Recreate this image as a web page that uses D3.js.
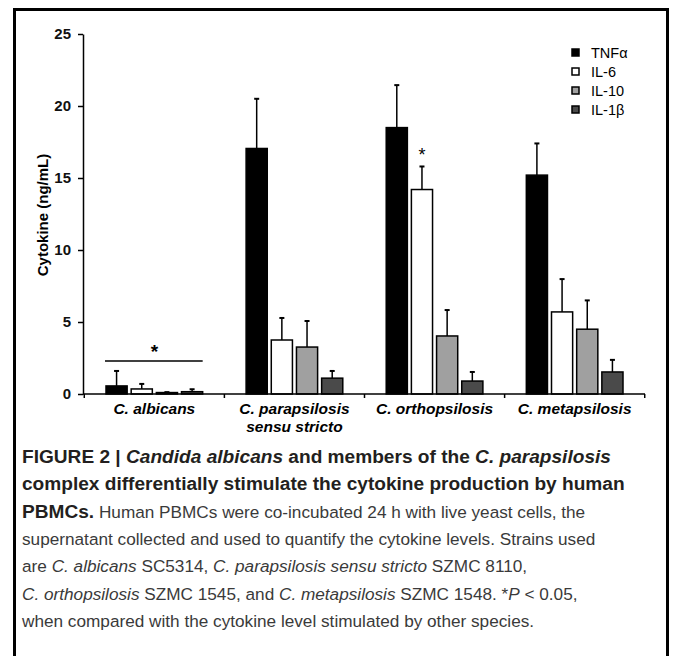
<!DOCTYPE html>
<html>
<head>
<meta charset="utf-8">
<script src="https://cdn.jsdelivr.net/npm/d3@7"></script>
<style>
  html, body { margin: 0; padding: 0; background: #fff; }
  svg { display: block; font-family: "Liberation Sans", Arial, sans-serif; }
</style>
</head>
<body>
<div id="app"></div>
<script>
// Data (ng/mL, mean and upper error)
const species = ["C. albicans", "C. parapsilosis", "C. orthopsilosis", "C. metapsilosis"];
const cytokines = ["TNFα", "IL-6", "IL-10", "IL-1β"];
const tnf = [0.56, 17.05, 18.5, 15.2];
const tnfErr = [1.04, 3.45, 2.95, 2.2];
const il6 = [0.35, 3.75, 14.2, 5.7];
const il6Err = [0.35, 1.53, 1.6, 2.28];
const il10 = [0.1, 3.26, 4.03, 4.5];
const il10Err = [0.03, 1.81, 1.8, 2.0];
const il1b = [0.16, 1.1, 0.9, 1.53];
const il1bErr = [0.17, 0.5, 0.63, 0.84];
const yTicks = [0, 5, 10, 15, 20, 25];

const colors = ["#000000", "#ffffff", "#a0a0a0", "#4a4a4a"];
const means = [tnf, il6, il10, il1b];
const errs = [tnfErr, il6Err, il10Err, il1bErr];

const width = 673, height = 656;
const svg = d3.select("#app").append("svg")
  .attr("width", width)
  .attr("height", height);

// frame around figure (open at the bottom)
svg.append("path")
  .attr("d", "M14.5,660 V9.5 H667.5 V660")
  .attr("fill", "none")
  .attr("stroke", "#000")
  .attr("stroke-width", 3);

const x0 = d3.scaleBand()
  .domain(species)
  .range([84, 645])
  .paddingInner(0.31)
  .paddingOuter(0.157);

const x1 = d3.scaleBand()
  .domain(cytokines)
  .range([0, x0.bandwidth()])
  .paddingInner(0.16);

const y = d3.scaleLinear()
  .domain([0, 25])
  .range([394, 34]);

// y axis
const yAxis = svg.append("g")
  .attr("transform", "translate(83,0)")
  .call(d3.axisLeft(y).tickValues(yTicks).tickSize(5).tickSizeOuter(0));
yAxis.select(".domain").attr("stroke-width", 1.5);
yAxis.selectAll(".tick line").attr("stroke-width", 1.5);
yAxis.selectAll(".tick text")
  .attr("font-size", 15)
  .attr("font-weight", "bold")
  .attr("font-family", "Liberation Sans, Arial, sans-serif")
  .attr("fill", "#111")
  .attr("x", -12);

svg.append("text")
  .attr("transform", "translate(48,215) rotate(-90)")
  .attr("text-anchor", "middle")
  .attr("font-size", 15)
  .attr("font-weight", "bold")
  .text("Cytokine (ng/mL)");

// bars
const groups = svg.append("g").selectAll("g")
  .data(species)
  .join("g")
  .attr("transform", d => `translate(${x0(d)},0)`);

groups.each(function(sp, i) {
  const g = d3.select(this);
  cytokines.forEach((c, k) => {
    const v = means[k][i], e = errs[k][i];
    const cx = x1(c) + x1.bandwidth() / 2;
    // error bar (upper only)
    g.append("line")
      .attr("x1", cx).attr("x2", cx)
      .attr("y1", y(v)).attr("y2", y(v + e))
      .attr("stroke", "#000").attr("stroke-width", 1.5);
    g.append("line")
      .attr("x1", cx - 2.5).attr("x2", cx + 2.5)
      .attr("y1", y(v + e)).attr("y2", y(v + e))
      .attr("stroke", "#000").attr("stroke-width", 2);
    g.append("rect")
      .attr("x", x1(c))
      .attr("y", y(v))
      .attr("width", x1.bandwidth())
      .attr("height", y(0) - y(v))
      .attr("fill", colors[k])
      .attr("stroke", "#000")
      .attr("stroke-width", 1.5);
  });
});

// x axis line and group ticks
const gap = (x0.step() - x0.bandwidth()) / 2;
svg.append("line")
  .attr("x1", 83).attr("x2", 645)
  .attr("y1", y(0)).attr("y2", y(0))
  .attr("stroke", "#000").attr("stroke-width", 1.5);
const bounds = species.map(s => x0(s) - gap).concat([x0(species[3]) + x0.bandwidth() + gap]);
svg.selectAll(".xtick")
  .data(bounds)
  .join("line")
  .attr("x1", d => d).attr("x2", d => d)
  .attr("y1", y(0)).attr("y2", y(0) + 4)
  .attr("stroke", "#000").attr("stroke-width", 1.5);

// category labels
const catLabels = svg.append("g")
  .attr("font-size", 15.5)
  .attr("font-weight", "bold")
  .attr("font-style", "italic")
  .attr("text-anchor", "middle");
species.forEach(s => {
  const t = catLabels.append("text")
    .attr("x", x0(s) + x0.bandwidth() / 2)
    .attr("y", 414);
  t.append("tspan").text(s);
  if (s === "C. parapsilosis") {
    t.append("tspan").attr("x", x0(s) + x0.bandwidth() / 2).attr("dy", 18).text("sensu stricto");
  }
});

// significance marks
const alb = species[0];
svg.append("line")
  .attr("x1", x0(alb) - 1).attr("x2", x0(alb) + x0.bandwidth())
  .attr("y1", 361).attr("y2", 361)
  .attr("stroke", "#000").attr("stroke-width", 1.5);
svg.append("text")
  .attr("x", x0(alb) + x0.bandwidth() / 2)
  .attr("y", 358)
  .attr("text-anchor", "middle")
  .attr("font-size", 19)
  .attr("font-weight", "bold")
  .text("*");
svg.append("text")
  .attr("x", x0(species[2]) + x1("IL-6") + x1.bandwidth() / 2)
  .attr("y", y(il6[2] + il6Err[2]) - 5)
  .attr("text-anchor", "middle")
  .attr("font-size", 18)
  .text("*");

// legend
const legend = svg.append("g").attr("transform", "translate(572,53)");
cytokines.forEach((c, k) => {
  const row = legend.append("g").attr("transform", `translate(0,${k * 19})`);
  row.append("rect")
    .attr("x", 0).attr("y", -4)
    .attr("width", 7).attr("height", 7)
    .attr("fill", colors[k])
    .attr("stroke", "#000").attr("stroke-width", 1.5);
  row.append("text")
    .attr("x", 19).attr("y", 5)
    .attr("font-size", 14.5)
    .text(c);
});

// caption
const capLines = [
  [["b", "FIGURE 2 | "], ["bi", "Candida albicans"], ["b", " and members of the "], ["bi", "C. parapsilosis"]],
  [["b", "complex differentially stimulate the cytokine production by human"]],
  [["b", "PBMCs."], ["r", " Human PBMCs were co-incubated 24 h with live yeast cells, the"]],
  [["r", "supernatant collected and used to quantify the cytokine levels. Strains used"]],
  [["r", "are "], ["i", "C. albicans"], ["r", " SC5314, "], ["i", "C. parapsilosis sensu stricto"], ["r", " SZMC 8110,"]],
  [["i", "C. orthopsilosis"], ["r", " SZMC 1545, and "], ["i", "C. metapsilosis"], ["r", " SZMC 1548. *"], ["i", "P"], ["r", " < 0.05,"]],
  [["r", "when compared with the cytokine level stimulated by other species."]]
];
const caption = svg.append("g");
capLines.forEach((line, i) => {
  const t = caption.append("text")
    .attr("x", 22)
    .attr("y", 463 + i * 27.3)
    .attr("xml:space", "preserve");
  line.forEach(([st, s]) => {
    const bold = st.includes("b");
    t.append("tspan")
      .attr("font-size", bold ? 19.1 : 17.2)
      .attr("font-weight", bold ? "bold" : "normal")
      .attr("font-style", st.includes("i") ? "italic" : "normal")
      .attr("fill", bold ? "#231f20" : "#3a3a3a")
      .text(s);
  });
});
</script>
</body>
</html>
